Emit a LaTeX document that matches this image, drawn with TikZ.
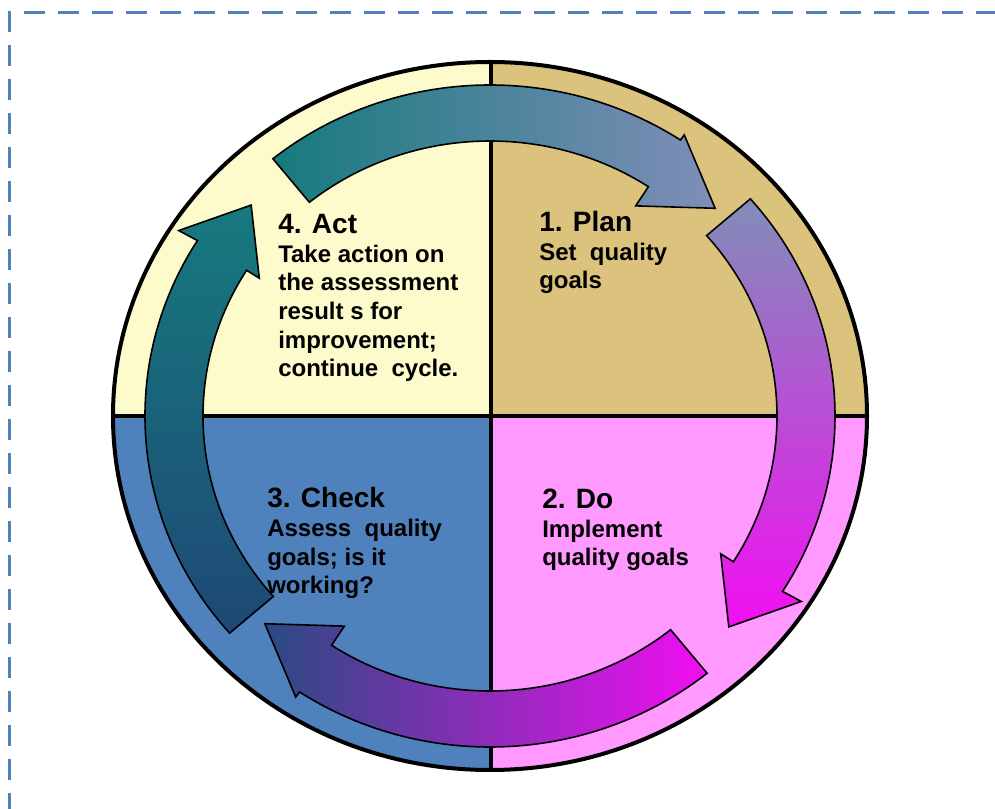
\documentclass[tikz,border=0pt]{standalone}
\usepackage{fontspec}
\setmainfont{Liberation Sans}

\definecolor{actfill}{HTML}{FDFBCC}
\definecolor{planfill}{HTML}{DCC37D}
\definecolor{checkfill}{HTML}{4F81BD}
\definecolor{dofill}{HTML}{FF99FF}
\definecolor{frameblue}{HTML}{4F81BD}
\definecolor{actteal}{HTML}{167A7E}
\definecolor{planslate}{HTML}{808EB8}
\definecolor{domagenta}{HTML}{F20EF2}
\definecolor{checknavy}{HTML}{2A4A82}
\definecolor{leftnavy}{HTML}{1E4876}

\begin{document}
\begin{tikzpicture}[x=1pt, y=1pt, scale=0.75,
    dashframe/.style={draw=frameblue, line width=2.25pt, dash pattern=on 15.75pt off 9.75pt},
    rim/.style={draw=black, line width=3pt},
    cyclearrow/.style={draw=black, line width=1.2pt, line join=miter},
    phasetext/.style={anchor=base west, inner sep=0pt, align=left,
      font=\fontsize{18}{21.5}\selectfont\bfseries}]
  \useasboundingbox (-490,-393) rectangle (505,416);

  % dashed frame
  \draw[dashframe] (-480,405) -- (-480,-400);
  \draw[dashframe] (-466,403) -- (520,403);

  % four quarters
  \fill[planfill] (0,0) -- (0:377 and 354) arc[start angle=0, end angle=90, x radius=377, y radius=354] -- cycle;
  \fill[actfill] (0,0) -- (90:377 and 354) arc[start angle=90, end angle=180, x radius=377, y radius=354] -- cycle;
  \fill[checkfill] (0,0) -- (180:377 and 354) arc[start angle=180, end angle=270, x radius=377, y radius=354] -- cycle;
  \fill[dofill] (0,0) -- (270:377 and 354) arc[start angle=270, end angle=360, x radius=377, y radius=354] -- cycle;
  \draw[rim] (-377,0) -- (377,0);
  \draw[rim] (1,354) -- (1,-354);
  \draw[rim] (0,0) ellipse [x radius=377, y radius=354];

  % texts (anchored at the baseline of their last line)
  \node[phasetext] (acttext) at (-212,39) {{\fontsize{21}{21.5}\selectfont 4. Act}\\
    Take action on\\ the assessment\\ result\ s for\\ improvement;\\ continue\ \ cycle.};
  \node[phasetext] (plantext) at (49,127) {{\fontsize{21}{21.5}\selectfont 1. Plan}\\
    Set\ \ quality\\ goals};
  \node[phasetext] (checktext) at (-223,-178) {{\fontsize{21}{21.5}\selectfont 3. Check}\\
    Assess\ \ quality\\ goals; is it\\ working?};
  \node[phasetext] (dotext) at (52,-150) {{\fontsize{21}{21.5}\selectfont 2. Do}\\
    Implement\\ quality goals};

  % act -> plan
  \shadedraw[cyclearrow, left color=actteal, right color=planslate]
    (129:345 and 331) arc[start angle=129, end angle=56.5, x radius=345, y radius=331]
    -- (56.5:352 and 337) -- (44:313 and 299) -- (56.5:264 and 252)
    -- (56.5:287 and 275) arc[start angle=56.5, end angle=129, x radius=287, y radius=275] -- cycle;
  % plan -> do
  \shadedraw[cyclearrow, top color=planslate, bottom color=domagenta]
    (41:345 and 331) arc[start angle=41, end angle=-32, x radius=345, y radius=331]
    -- (-32:367 and 350) -- (-42.7:325 and 311) -- (-32:272 and 260)
    -- (-32:287 and 275) arc[start angle=-32, end angle=41, x radius=287, y radius=275] -- cycle;
  % do -> check
  \shadedraw[cyclearrow, right color=domagenta, left color=checknavy]
    (-51:345 and 331) arc[start angle=-51, end angle=-123.5, x radius=345, y radius=331]
    -- (-123.5:352 and 337) -- (-136:313 and 299) -- (-123.5:264 and 252)
    -- (-123.5:287 and 275) arc[start angle=-123.5, end angle=-51, x radius=287, y radius=275] -- cycle;
  % check -> act
  \shadedraw[cyclearrow, bottom color=leftnavy, top color=actteal]
    (221:345 and 331) arc[start angle=221, end angle=148, x radius=345, y radius=331]
    -- (148:367 and 350) -- (137.3:325 and 311) -- (148:272 and 260)
    -- (148:287 and 275) arc[start angle=148, end angle=221, x radius=287, y radius=275] -- cycle;
\end{tikzpicture}
\end{document}
